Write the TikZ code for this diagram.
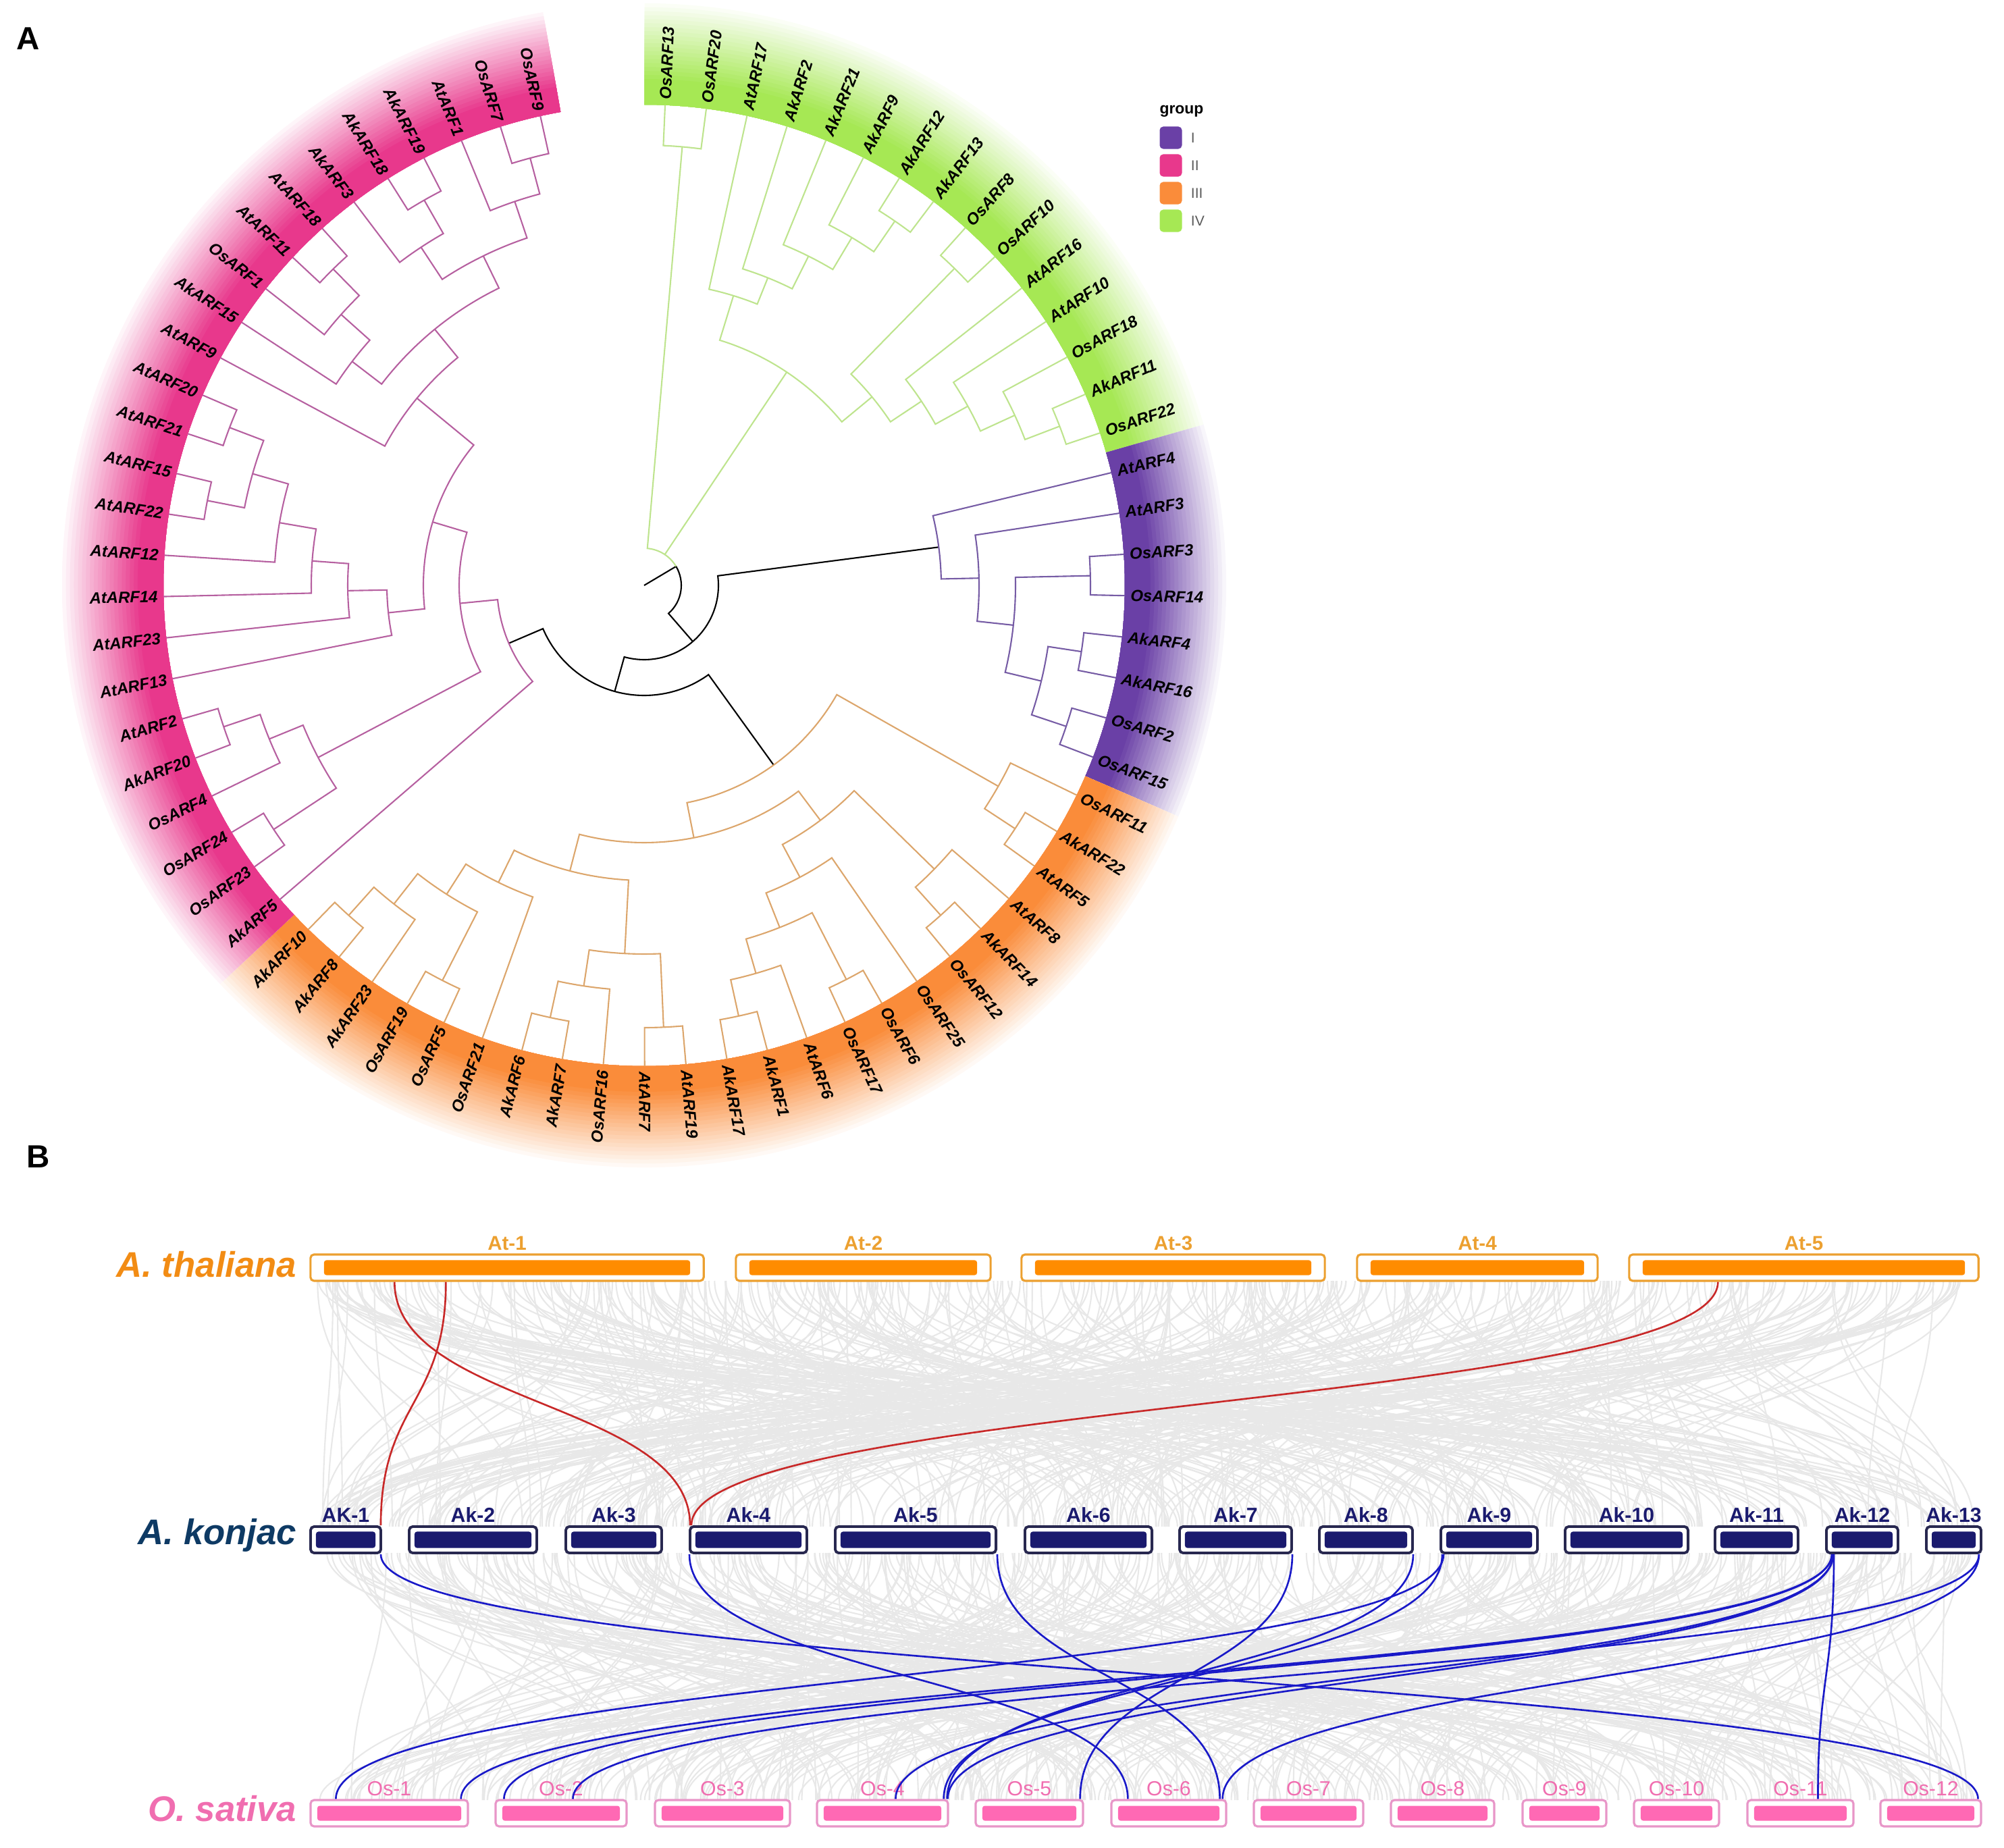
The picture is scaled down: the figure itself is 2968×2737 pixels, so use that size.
\documentclass[tikz,border=0pt]{standalone}
\usepackage{fontspec}
\setmainfont{Liberation Sans}
\usetikzlibrary{positioning}

\definecolor{grpI}{RGB}{106,64,166}
\definecolor{grpII}{RGB}{232,56,140}
\definecolor{grpIII}{RGB}{250,140,58}
\definecolor{grpIV}{RGB}{166,232,84}
\definecolor{brI}{RGB}{118,92,165}
\definecolor{brII}{RGB}{182,96,160}
\definecolor{brIII}{RGB}{220,166,108}
\definecolor{brIV}{RGB}{190,228,142}
\definecolor{atorange}{RGB}{255,140,0}
\definecolor{atline}{RGB}{236,160,48}
\definecolor{atname}{RGB}{242,140,20}
\definecolor{aknavy}{RGB}{26,26,110}
\definecolor{akline}{RGB}{40,40,80}
\definecolor{akname}{RGB}{14,58,100}
\definecolor{ospink}{RGB}{255,105,180}
\definecolor{osline}{RGB}{232,150,200}
\definecolor{oslab}{RGB}{240,110,176}
\definecolor{synred}{RGB}{200,40,40}
\definecolor{synblue}{RGB}{25,25,200}
\definecolor{syngray}{RGB}{232,232,232}
\definecolor{leggray}{RGB}{90,90,90}

\tikzset{
  leaf/.style={inner sep=0pt, font=\fontsize{6.8}{7}\selectfont\bfseries\itshape},
  branch/.style={line width=0.6pt},
  rootbr/.style={branch, color=black},
  grIbr/.style={branch, color=brI},
  grIIbr/.style={branch, color=brII},
  grIIIbr/.style={branch, color=brIII},
  grIVbr/.style={branch, color=brIV},
  panel/.style={inner sep=0pt, font=\fontsize{13.5}{16}\selectfont\bfseries},
  legtitle/.style={inner sep=0pt, font=\fontsize{6.5}{8}\selectfont\bfseries},
  legkey/.style={minimum size=0.33cm, inner sep=0pt, rounded corners=1.5pt},
  leglab/.style={inner sep=0pt, text=leggray, font=\fontsize{6}{7}\selectfont},
  species/.style={inner sep=0pt, font=\fontsize{15}{18}\selectfont\bfseries\itshape},
  atbox/.style={draw=atline, line width=0.9pt, fill=white, rounded corners=1.5pt, minimum height=0.39cm, inner sep=0pt},
  atbar/.style={fill=atorange, rounded corners=1pt, minimum height=0.22cm, inner sep=0pt},
  atlab/.style={inner sep=0pt, text=atline, font=\fontsize{8.4}{10}\selectfont\bfseries},
  akbox/.style={draw=akline, line width=1.1pt, fill=white, rounded corners=1.5pt, minimum height=0.39cm, inner sep=0pt},
  akbar/.style={fill=aknavy, rounded corners=1pt, minimum height=0.24cm, inner sep=0pt},
  aklab/.style={inner sep=0pt, text=aknavy, font=\fontsize{8.6}{10}\selectfont\bfseries},
  osbox/.style={draw=osline, line width=0.9pt, fill=white, rounded corners=1.5pt, minimum height=0.39cm, inner sep=0pt},
  osbar/.style={fill=ospink, rounded corners=1pt, minimum height=0.22cm, inner sep=0pt},
  oslabel/.style={inner sep=0pt, text=oslab, font=\fontsize{8.6}{10}\selectfont},
  graylink/.style={draw=syngray, line width=0.6pt},
  redlink/.style={draw=synred, line width=0.75pt},
  bluelink/.style={draw=synblue, line width=0.75pt}
}

% angle of a leaf position on the circle
\newcommand{\pa}[1]{87.5-4.929*(#1)}
% one split: radius, child 1 (position, radius), child 2 (position, radius)
\newcommand{\clade}[5]{\draw ({\pa{#2}}:#3) -- ({\pa{#2}}:#1)
  arc[start angle={\pa{#2}}, end angle={\pa{#4}}, radius=#1] -- ({\pa{#4}}:#5);}
% coloured group band, fading outwards
\newcommand{\hilite}[3]{%
  \foreach \k in {1,...,20}{%
    \pgfmathsetmacro\ro{868-118*\k/20}%
    \pgfmathsetmacro\pc{100*\k/20}%
    \fill[#1!\pc!white] (#2:712) arc[start angle=#2, end angle=#3, radius=712]
      -- (#3:\ro) arc[start angle=#3, end angle=#2, radius=\ro] -- cycle;
  }}

\begin{document}
\begin{tikzpicture}[x=0.01cm, y=-0.01cm]
  \path[use as bounding box] (0,0) rectangle (2968,2737);

  \node[panel] (pA) at (42,57) {A};
  \node[panel] (pB) at (57,1713) {B};

  % ---- panel A: circular tree
  \begin{scope}[shift={(954,867)}, yscale=-1]
    \hilite{grpIV}{89.96}{16.03}
    \hilite{grpI}{16.03}{-23.40}
    \hilite{grpIII}{-23.40}{-136.77}
    \hilite{grpII}{-136.77}{-259.99}

    % backbone
    \draw[rootbr] (0,0) -- ({\pa{11.516}}:55)
      arc[start angle={\pa{11.516}}, end angle={\pa{27.705}}, radius=55] -- ({\pa{27.705}}:110);
    \begin{scope}[rootbr]
      \clade{110}{16.25}{440}{39.16}{163}
      \clade{163}{49.5703}{218}{28.75}{328}
    \end{scope}

    % group IV
    \begin{scope}[grIVbr]
      \draw ({\pa{0.5}}:652) -- ({\pa{0.5}}:55)
        arc[start angle={\pa{0.5}}, end angle={\pa{11.516}}, radius=55];
      \draw ({\pa{6.34375}}:55) -- ({\pa{6.34375}}:380);
      \clade{652}{0}{712}{1}{712}
      \clade{655}{6}{712}{7}{712}
      \clade{600}{5}{712}{6.5}{655}
      \clade{545}{4}{712}{5.75}{600}
      \clade{491}{3}{712}{4.875}{545}
      \clade{449}{2}{712}{3.9375}{491}
      \clade{657}{8}{712}{9}{712}
      \clade{659}{13}{712}{14}{712}
      \clade{604}{12}{712}{13.5}{659}
      \clade{548}{11}{712}{12.75}{604}
      \clade{493}{10}{712}{11.875}{548}
      \clade{438}{8.5}{657}{10.9375}{493}
      \clade{380}{2.96875}{449}{9.71875}{438}
    \end{scope}

    % group I
    \begin{scope}[grIbr]
      \clade{661}{17}{712}{18}{712}
      \clade{655}{19}{712}{20}{712}
      \clade{659}{21}{712}{22}{712}
      \clade{605}{19.5}{655}{21.5}{659}
      \clade{550}{17.5}{661}{20.5}{605}
      \clade{496}{16}{712}{19}{550}
      \clade{440}{15}{712}{17.5}{496}
    \end{scope}

    % group III
    \begin{scope}[grIIIbr]
      \clade{657}{24}{712}{25}{712}
      \clade{603}{23}{712}{24.5}{657}
      \clade{657}{27}{712}{28}{712}
      \clade{601}{26}{712}{27.5}{657}
      \clade{656}{30}{712}{31}{712}
      \clade{653}{33}{712}{34}{712}
      \clade{598}{32}{712}{33.5}{653}
      \clade{545}{30.5}{656}{32.75}{598}
      \clade{490}{29}{712}{31.625}{545}
      \clade{435}{26.75}{601}{30.3125}{490}
      \clade{655}{35}{712}{36}{712}
      \clade{655}{38}{712}{39}{712}
      \clade{600}{37}{712}{38.5}{655}
      \clade{546}{35.5}{655}{37.75}{600}
      \clade{657}{41}{712}{42}{712}
      \clade{656}{44}{712}{45}{712}
      \clade{600}{43}{712}{44.5}{656}
      \clade{543}{41.5}{657}{43.75}{600}
      \clade{490}{40}{712}{42.625}{543}
      \clade{437}{36.625}{546}{41.3125}{490}
      \clade{381}{28.53125}{435}{38.96875}{437}
      \clade{328}{23.75}{603}{33.75}{381}
    \end{scope}

    % group II
    \begin{scope}[grIIbr]
      \clade{657}{47}{712}{48}{712}
      \clade{657}{50}{712}{51}{712}
      \clade{600}{49}{712}{50.5}{657}
      \clade{546}{47.5}{657}{49.75}{600}
      \clade{659}{56}{712}{57}{712}
      \clade{657}{58}{712}{59}{712}
      \clade{603}{56.5}{659}{58.5}{657}
      \clade{548}{55}{712}{57.5}{603}
      \clade{493}{54}{712}{56.25}{548}
      \clade{439}{53}{712}{55.125}{493}
      \clade{381}{52}{712}{54.0625}{439}
      \clade{657}{63}{712}{64}{712}
      \clade{602}{62}{712}{63.5}{657}
      \clade{545}{61}{712}{62.75}{602}
      \clade{657}{66}{712}{67}{712}
      \clade{600}{65}{712}{66.5}{657}
      \clade{655}{69}{712}{70}{712}
      \clade{600}{68}{712}{69.5}{655}
      \clade{543}{65.75}{600}{68.75}{600}
      \clade{490}{61.875}{545}{67.25}{543}
      \clade{436}{60}{712}{64.5625}{490}
      \clade{327}{53.03125}{381}{62.28125}{436}
      \clade{274}{48.625}{546}{57.65625}{327}
      \clade{218}{46}{712}{53.140625}{274}
    \end{scope}

    % leaf labels
    \foreach \nm [count=\i from 0] in {OsARF13,OsARF20,AtARF17,AkARF2,AkARF21,AkARF9,AkARF12,AkARF13,
      OsARF8,OsARF10,AtARF16,AtARF10,OsARF18,AkARF11,OsARF22,AtARF4,AtARF3,OsARF3,OsARF14,AkARF4,
      AkARF16,OsARF2,OsARF15,OsARF11,AkARF22,AtARF5,AtARF8,AkARF14,OsARF12,OsARF25,OsARF6,OsARF17,
      AtARF6,AkARF1,AkARF17,AtARF19,AtARF7,OsARF16,AkARF7,AkARF6,OsARF21,OsARF5,OsARF19,AkARF23,
      AkARF8,AkARF10,AkARF5,OsARF23,OsARF24,OsARF4,AkARF20,AtARF2,AtARF13,AtARF23,AtARF14,AtARF12,
      AtARF22,AtARF15,AtARF21,AtARF20,AtARF9,AkARF15,OsARF1,AtARF11,AtARF18,AkARF3,AkARF18,AkARF19,
      AtARF1,OsARF7,OsARF9}{
      \pgfmathsetmacro\a{87.5-4.929*\i}
      \pgfmathtruncatemacro\rt{cos(\a)>=0 ? 1 : 0}
      \ifnum\rt=1
        \node[leaf, rotate=\a, anchor=west] (\nm) at (\a:720) {\nm};
      \else
        \node[leaf, rotate=\a+180, anchor=east] (\nm) at (\a:720) {\nm};
      \fi
    }
  \end{scope}

  % legend
  \node[legtitle] (grptitle) at (1750,165) {group};
  \foreach \g/\c [count=\j] in {I/grpI, II/grpII, III/grpIII, IV/grpIV}{
    \node[legkey, fill=\c] (key\g) at (1734,{204+41*(\j-1)}) {};
    \node[leglab, right=0.12cm of key\g] (lab\g) {\g};
  }

  % ---- panel B: synteny
  \pgfmathsetseed{11}
  \foreach \i in {1,...,430}{
    \pgfmathsetmacro\xa{470+2455*rnd}
    \pgfmathsetmacro\xb{470+2455*rnd}
    \draw[graylink] (\xa,1897) .. controls (\xa,2079) and (\xb,2079) .. (\xb,2261);
  }
  \foreach \i in {1,...,430}{
    \pgfmathsetmacro\xa{470+2455*rnd}
    \pgfmathsetmacro\xb{470+2455*rnd}
    \draw[graylink] (\xa,2300) .. controls (\xa,2483) and (\xb,2483) .. (\xb,2666);
  }

  % chromosomes
  \foreach \nm/\lab/\xa/\xb in {At1/At-1/460/1042, At2/At-2/1090/1467, At3/At-3/1513/1962,
      At4/At-4/2010/2366, At5/At-5/2413/2930}{
    \pgfmathsetmacro\chw{(\xb-\xa)/100}
    \pgfmathsetmacro\barw{(\xb-\xa-40)/100}
    \node[atbox, minimum width=\chw cm] (\nm) at ({(\xa+\xb)/2},1877.5) {};
    \node[atbar, minimum width=\barw cm] (\nm b) at (\nm.center) {};
    \node[atlab, above=1pt of \nm] (\nm l) {\lab};
  }
  \foreach \nm/\lab/\xa/\xb in {Ak1/AK-1/460/564, Ak2/Ak-2/606/795, Ak3/Ak-3/838/980,
      Ak4/Ak-4/1022/1195, Ak5/Ak-5/1237/1475, Ak6/Ak-6/1518/1706, Ak7/Ak-7/1747/1913,
      Ak8/Ak-8/1954/2092, Ak9/Ak-9/2134/2277, Ak10/Ak-10/2318/2500, Ak11/Ak-11/2540/2663,
      Ak12/Ak-12/2705/2811, Ak13/Ak-13/2853/2934}{
    \pgfmathsetmacro\chw{(\xb-\xa)/100}
    \pgfmathsetmacro\barw{(\xb-\xa-16)/100}
    \node[akbox, minimum width=\chw cm] (\nm) at ({(\xa+\xb)/2},2280.5) {};
    \node[akbar, minimum width=\barw cm] (\nm b) at (\nm.center) {};
    \node[aklab, above=1pt of \nm] (\nm l) {\lab};
  }
  \foreach \nm/\lab/\xa/\xb in {Os1/Os-1/460/693, Os2/Os-2/734/928, Os3/Os-3/970/1170,
      Os4/Os-4/1210/1404, Os5/Os-5/1445/1604, Os6/Os-6/1646/1816, Os7/Os-7/1857/2019,
      Os8/Os-8/2060/2213, Os9/Os-9/2255/2379, Os10/Os-10/2420/2546, Os11/Os-11/2588/2745,
      Os12/Os-12/2785/2934}{
    \pgfmathsetmacro\chw{(\xb-\xa)/100}
    \pgfmathsetmacro\barw{(\xb-\xa-20)/100}
    \node[osbox, minimum width=\chw cm] (\nm) at ({(\xa+\xb)/2},2685.5) {};
    \node[osbar, minimum width=\barw cm] (\nm b) at (\nm.center) {};
    \node[oslabel, above=1pt of \nm] (\nm l) {\lab};
  }

  % highlighted pairs: source anchor, shift, target anchor, shift
  \foreach \s/\ds/\t/\dt in {At1.south west/1.26/Ak4.north west/0.02,
      At1.south west/2.02/Ak1.north east/-0.02,
      At5.south west/1.33/Ak4.north west/0.04}{
    \draw[redlink] ([xshift=\ds cm]\s) .. controls +(0,182) and +(0,-182) .. ([xshift=\dt cm]\t);
  }
  \foreach \s/\ds/\t/\dt in {Ak1.south east/-0.02/Os12.north east/-0.06,
      Ak4.south west/0.01/Os6.north west/0.26,
      Ak5.south east/0/Os6.north east/-0.11,
      Ak7.south east/-0.01/Os5.north east/-0.06,
      Ak8.south east/-0.01/Os4.north east/-0.03,
      Ak9.south west/0.06/Os1.north west/0.39,
      Ak9.south west/0.04/Os4.north east/-0.08,
      Ak12.south west/0.10/Os1.north east/-0.12,
      Ak12.south west/0.10/Os2.north west/0.14,
      Ak12.south west/0.12/Os4.north west/1.18,
      Ak12.south west/0.12/Os4.north east/-0.02,
      Ak12.south west/0.13/Os11.north west/1.06,
      Ak13.south east/-0.05/Os6.north east/-0.07,
      Ak13.south east/-0.05/Os2.north west/1.16}{
    \draw[bluelink] ([xshift=\ds cm]\s) .. controls +(0,182) and +(0,-182) .. ([xshift=\dt cm]\t);
  }

  % species
  \node[species, text=atname, anchor=east] (athal) at (440,1873) {A. thaliana};
  \node[species, text=akname, anchor=east] (akonj) at (440,2274) {A. konjac};
  \node[species, text=oslab, anchor=east] (osat) at (440,2679) {O. sativa};
\end{tikzpicture}
\end{document}
